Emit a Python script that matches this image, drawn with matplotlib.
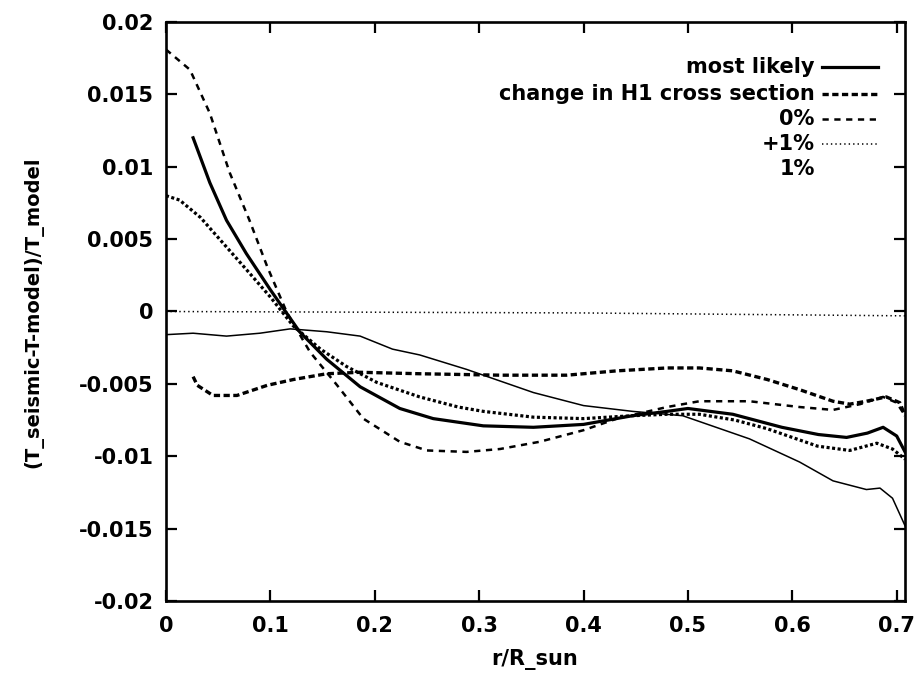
import matplotlib
matplotlib.use("Agg")
import matplotlib.pyplot as plt

# radius r/R_sun and relative temperature difference
most_x = [0.026, 0.042, 0.058, 0.077, 0.10, 0.128, 0.154, 0.186, 0.224, 0.256, 0.304, 0.352,
          0.40, 0.447, 0.48, 0.50, 0.543, 0.59, 0.625, 0.652, 0.672, 0.687, 0.70, 0.708]
most_y = [0.0120, 0.0089, 0.0063, 0.0040, 0.0015, -0.0014, -0.0033, -0.0052, -0.0067, -0.0074,
          -0.0079, -0.0080, -0.0078, -0.0072, -0.0069, -0.0067, -0.0071, -0.0080, -0.0085,
          -0.0087, -0.0084, -0.0080, -0.0086, -0.0097]

h1_x = [0.0, 0.023, 0.042, 0.061, 0.080, 0.097, 0.116, 0.138, 0.164, 0.189, 0.224, 0.25, 0.288,
        0.32, 0.358, 0.40, 0.432, 0.48, 0.511, 0.559, 0.607, 0.639, 0.665, 0.687, 0.70, 0.708]
h1_y = [0.0181, 0.0167, 0.0137, 0.0096, 0.0063, 0.0031, -0.0001, -0.0028, -0.0051, -0.0074,
        -0.0090, -0.0096, -0.0097, -0.0095, -0.0090, -0.0082, -0.0074, -0.0066, -0.0062,
        -0.0062, -0.0066, -0.0068, -0.0064, -0.0059, -0.0063, -0.0072]

p0_x = [0.0, 0.013, 0.033, 0.055, 0.077, 0.10, 0.122, 0.148, 0.173, 0.202, 0.243, 0.28, 0.304,
        0.352, 0.40, 0.447, 0.48, 0.511, 0.545, 0.576, 0.624, 0.655, 0.681, 0.696, 0.708]
p0_y = [0.0080, 0.0077, 0.0065, 0.0047, 0.0029, 0.0010, -0.0010, -0.0026, -0.0038, -0.0049,
        -0.0059, -0.0066, -0.0069, -0.0073, -0.0074, -0.0072, -0.0071, -0.0071, -0.0075,
        -0.0081, -0.0093, -0.0096, -0.0091, -0.0095, -0.0102]

p1_x = [0.0, 0.2, 0.4, 0.55, 0.708]
p1_y = [0.0, -0.00005, -0.0001, -0.0002, -0.0003]

m1_x = [0.0, 0.026, 0.058, 0.09, 0.119, 0.154, 0.186, 0.217, 0.243, 0.288, 0.352, 0.40, 0.447,
        0.495, 0.511, 0.559, 0.607, 0.639, 0.671, 0.684, 0.696, 0.708]
m1_y = [-0.0016, -0.0015, -0.0017, -0.0015, -0.0012, -0.0014, -0.0017, -0.0026, -0.0030,
        -0.0040, -0.0056, -0.0065, -0.0069, -0.0072, -0.0076, -0.0088, -0.0104, -0.0117,
        -0.0123, -0.0122, -0.0129, -0.0148]

ex_x = [0.026, 0.030, 0.045, 0.068, 0.097, 0.122, 0.154, 0.186, 0.243, 0.32, 0.384, 0.432, 0.48,
        0.511, 0.543, 0.576, 0.607, 0.639, 0.655, 0.671, 0.69, 0.703, 0.708]
ex_y = [-0.0045, -0.0051, -0.0058, -0.0058, -0.0051, -0.0047, -0.0043, -0.0042, -0.0043,
        -0.0044, -0.0044, -0.0041, -0.0039, -0.0039, -0.0041, -0.0047, -0.0054, -0.0062,
        -0.0064, -0.0062, -0.0059, -0.0063, -0.0072]

xticks = [0, 0.1, 0.2, 0.3, 0.4, 0.5, 0.6, 0.7]
xtick_labels = ["0", "0.1", "0.2", "0.3", "0.4", "0.5", "0.6", "0.7"]
yticks = [0.02, 0.015, 0.01, 0.005, 0, -0.005, -0.01, -0.015, -0.02]
ytick_labels = ["0.02", "0.015", "0.01", "0.005", "0", "-0.005", "-0.01", "-0.015", "-0.02"]
legend_labels = ["most likely", "change in H1 cross section", "0%", "+1%", "1%"]

plt.rcParams["font.family"] = ["DejaVu Sans"]
plt.rcParams["font.weight"] = "bold"
plt.rcParams["font.size"] = 15
plt.rcParams["axes.unicode_minus"] = False
plt.rcParams["lines.scale_dashes"] = False

fig = plt.figure(figsize=(9.19, 6.73), dpi=100)
ax = fig.add_axes([0.1806, 0.107, 0.8042, 0.8603])

# line styles (gnuplot-ish)
solid = dict(color="black", lw=2.3, ls="-")
h1 = dict(color="black", lw=1.8, dashes=(4.5, 4))
p0 = dict(color="black", lw=2.3, dashes=(2.2, 1.8))
p1 = dict(color="black", lw=1.1, dashes=(1, 2.2))
m1 = dict(color="black", lw=1.1, ls="-")
ex = dict(color="black", lw=2.4, dashes=(4.5, 2.5))

ax.plot(most_x, most_y, **solid)
ax.plot(h1_x, h1_y, **h1)
ax.plot(p0_x, p0_y, **p0)
ax.plot(p1_x, p1_y, **p1)
ax.plot(m1_x, m1_y, **m1)
ax.plot(ex_x, ex_y, **ex)

ax.set_xlim(0, 0.708)
ax.set_ylim(-0.02, 0.02)
ax.set_xticks(xticks)
ax.set_xticklabels(xtick_labels)
ax.set_yticks(yticks)
ax.set_yticklabels(ytick_labels)
ax.tick_params(direction="in", length=8, width=1.6, top=True, right=True, labelsize=15)
ax.tick_params(axis="x", pad=11)
ax.tick_params(axis="y", pad=9)
for s in ax.spines.values():
    s.set_linewidth(1.9)

# legend drawn by hand: text right aligned, sample to the right (like gnuplot)
styles = [solid, ex, h1, p1, None]
row_y = [0.923, 0.876, 0.832, 0.789, 0.746]
for lab, st, yy in zip(legend_labels, styles, row_y):
    ax.text(0.878, yy, lab, transform=ax.transAxes, ha="right", va="center", fontsize=15)
    if st is not None:
        ax.plot([0.888, 0.963], [yy, yy], transform=ax.transAxes, **st)

fig.text(33 / 919, 1 - 312 / 673, "(T_seismic-T-model)/T_model", rotation=90,
         ha="center", va="center", fontsize=14)
fig.text(535 / 919, 1 - 659 / 673, "r/R_sun", ha="center", va="center", fontsize=15)

plt.savefig("out.png", dpi=100)
